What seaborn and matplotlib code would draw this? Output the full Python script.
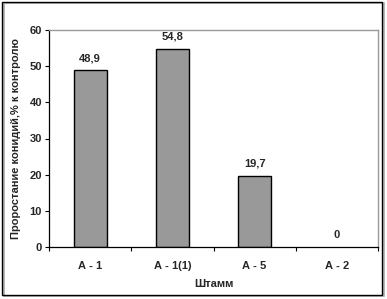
import matplotlib
matplotlib.use('Agg')
import matplotlib.pyplot as plt
import seaborn as sns
import pandas as pd
from matplotlib.patches import Rectangle

# Данные
strains = ['А - 1', 'А - 1(1)', 'А - 5', 'А - 2']
germination = [48.9, 54.8, 19.7, 0]
value_labels = ['48,9', '54,8', '19,7', '0']

sns.set_style('white')
plt.rcParams['font.family'] = ['Liberation Sans', 'DejaVu Sans']
plt.rcParams['font.weight'] = 'bold'
FS = 8

W, H = 387, 299
fig = plt.figure(figsize=(W / 100, H / 100), dpi=100)
ax = fig.add_axes([49 / W, 1 - 247 / H, (378 - 49) / W, (247 - 30) / H])

df = pd.DataFrame({'strain': strains, 'value': germination})
sns.barplot(data=df, x='strain', y='value', color='#999999', saturation=1,
            width=0.4, edgecolor='black', linewidth=1, ax=ax)

# у нулевого столбца контур не виден
for bar, v in zip(ax.patches, germination):
    if v == 0:
        bar.set_linewidth(0)

ax.set_xlim(-0.5, len(strains) - 0.5)
ax.set_ylim(0, 60)
ax.set_yticks(range(0, 61, 10))

# подписи значений
for i, (v, lab) in enumerate(zip(germination, value_labels)):
    ax.annotate(lab, (i, v), xytext=(0, 5), textcoords='offset points',
                ha='center', va='bottom', fontsize=FS, fontweight='bold')

# деления между категориями
ax.set_xticks([i - 0.5 for i in range(len(strains) + 1)], minor=True)
ax.tick_params(axis='x', which='major', length=0, pad=10, labelsize=FS)
ax.tick_params(axis='x', which='minor', length=3, width=0.8, color='black',
               direction='out', bottom=True)
ax.tick_params(axis='y', length=3, width=0.8, color='black', direction='out',
               left=True, labelsize=FS, pad=2)

for side in ['left', 'bottom']:
    ax.spines[side].set_color('black')
    ax.spines[side].set_linewidth(0.9)
for side in ['top', 'right']:
    ax.spines[side].set_color('#999999')
    ax.spines[side].set_linewidth(1)

ax.set_xlabel('Штамм', fontsize=FS, fontweight='bold', labelpad=6)
ax.set_ylabel('Проростание конидий,% к контролю', fontsize=FS,
              fontweight='bold', labelpad=6)

# рамка вокруг диаграммы с тенью
fig.patches.append(Rectangle((4 / W, 3 / H), 380 / W, 293 / H,
                             transform=fig.transFigure, fill=False,
                             edgecolor='#aaaaaa', linewidth=1.2))
fig.patches.append(Rectangle((2 / W, 4 / H), 380 / W, 293 / H,
                             transform=fig.transFigure, fill=False,
                             edgecolor='black', linewidth=1))

fig.savefig('out.png', dpi=100)
